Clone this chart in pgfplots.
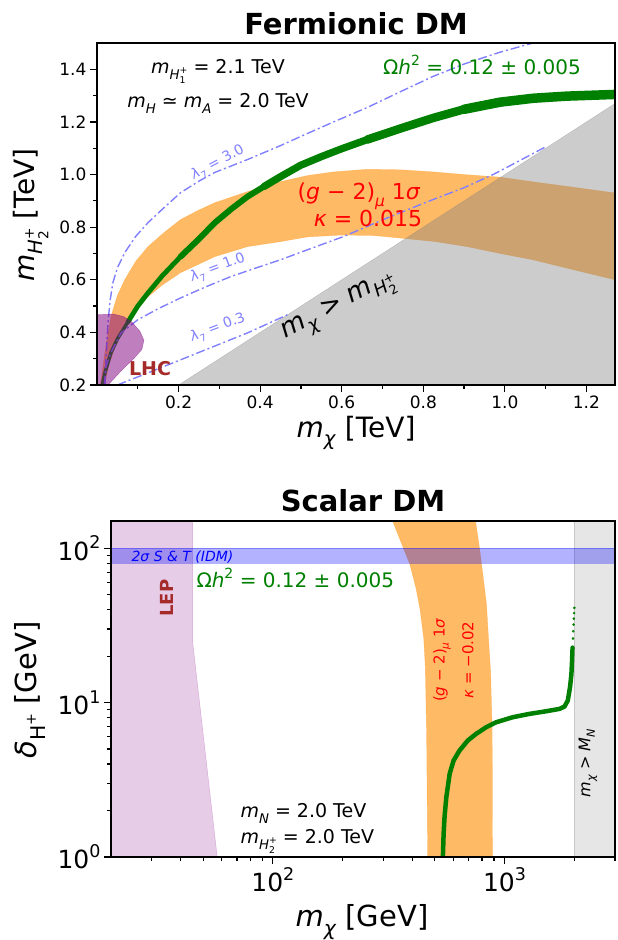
\documentclass[border=0pt]{standalone}
\usepackage{pgfplots}
\pgfplotsset{compat=1.18}
\usepackage{fontspec}
\setmainfont{DejaVu Sans}
\newcommand{\mi}[1]{\textit{#1}}
\newcommand{\dn}[1]{\raisebox{-0.28em}{\scalebox{0.7}{#1}}}
\newcommand{\up}[1]{\raisebox{0.45em}{\scalebox{0.7}{#1}}}
\newcommand{\ud}[2]{\rlap{\dn{#1}}\up{#2}}
\newcommand{\fs}[1]{\fontsize{#1}{#1}\selectfont}
\definecolor{lam}{RGB}{128,128,255}
\definecolor{dorange}{RGB}{255,140,0}
\definecolor{lbrown}{RGB}{165,42,42}
\definecolor{mgreen}{RGB}{0,128,0}
\definecolor{mpurple}{RGB}{128,0,128}
\definecolor{mgray}{RGB}{128,128,128}
\pgfplotsset{myax/.style={scale only axis, axis on top, tick align=outside,
  xtick pos=left, ytick pos=left, axis line style={line width=2.4pt},
  major tick length=7pt, minor tick length=4pt,
  every tick/.style={black, line width=1.2pt}, clip=true},
  lamline/.style={lam, line width=1.4pt, dash pattern=on 9pt off 3pt on 2pt off 3pt},
  grline/.style={mgreen, line cap=round, line join=round}}
\begin{document}
\begin{tikzpicture}
\path[use as bounding box] (0pt,0pt) rectangle (618pt,940pt);
% ---------------- Top panel ----------------
\begin{axis}[myax, at={(97pt,555pt)}, anchor=south west, width=518pt, height=342pt,
  xmin=0, xmax=1.27, ymin=0.2, ymax=1.5,
  xtick={0.2,0.4,0.6,0.8,1.0,1.2}, xticklabels={0.2,0.4,0.6,0.8,1.0,1.2},
  minor xtick={0.1,0.3,0.5,0.7,0.9,1.1},
  ytick={0.2,0.4,0.6,0.8,1.0,1.2,1.4}, yticklabels={0.2,0.4,0.6,0.8,1.0,1.2,1.4},
  minor ytick={0.3,0.5,0.7,0.9,1.1,1.3},
  tick label style={font=\fs{17}}]
% g-2 band
\addplot[fill=dorange, fill opacity=0.6, draw=dorange, draw opacity=0.4] coordinates {
 (0.008,0.2)(0.02,0.33)(0.034,0.459)(0.05,0.54)(0.068,0.6)(0.095,0.67)(0.125,0.726)
 (0.165,0.78)(0.205,0.829)(0.25,0.865)(0.289,0.893)(0.369,0.935)(0.45,0.973)(0.516,0.996)
 (0.58,1.01)(0.663,1.02)(0.745,1.018)(0.824,1.01)(0.9,1.0)(0.988,0.99)(1.07,0.972)
 (1.152,0.955)(1.27,0.93)
 (1.27,0.6)(1.15,0.645)(1.069,0.676)(0.988,0.70)(0.907,0.726)(0.83,0.745)(0.76,0.756)
 (0.68,0.768)(0.6,0.77)(0.516,0.763)(0.45,0.745)(0.369,0.726)(0.289,0.688)(0.205,0.627)
 (0.16,0.58)(0.125,0.535)(0.1,0.49)(0.076,0.448)(0.05,0.37)(0.03,0.28)(0.018,0.2)} --cycle;
% relic density (band widening to the right)
\addplot[grline, line width=3.5pt] coordinates {
 (0.013,0.2)(0.02,0.25)(0.034,0.322)(0.05,0.375)(0.076,0.44)(0.1,0.5)};
\addplot[grline, line width=4.8pt] coordinates {
 (0.076,0.44)(0.1,0.5)(0.125,0.55)(0.16,0.615)(0.205,0.688)(0.25,0.755)};
\addplot[grline, line width=6pt] coordinates {
 (0.205,0.688)(0.25,0.755)(0.289,0.817)(0.33,0.87)(0.369,0.916)(0.41,0.955)(0.45,0.992)};
\addplot[grline, line width=7.3pt] coordinates {
 (0.41,0.955)(0.45,0.992)(0.499,1.035)(0.55,1.068)(0.6,1.098)(0.663,1.133)(0.744,1.175)};
\addplot[grline, line width=8.5pt] coordinates {
 (0.663,1.133)(0.744,1.175)(0.824,1.215)(0.9,1.248)(0.988,1.275)};
\addplot[grline, line width=9.5pt] coordinates {
 (0.9,1.248)(0.988,1.275)(1.07,1.29)(1.152,1.298)(1.28,1.305)};
% excluded m_chi > m_H2
\addplot[fill=mgray, fill opacity=0.4, draw=mgray, draw opacity=0.4] coordinates {
 (0.2,0.2)(1.27,1.27)(1.27,0.2)} --cycle;
% lambda_7 contours
\addplot[lamline] coordinates {
 (0.02,0.2)(0.022,0.3)(0.027,0.436)(0.032,0.52)(0.039,0.589)(0.05,0.645)(0.068,0.703)
 (0.095,0.765)(0.125,0.817)(0.165,0.875)(0.205,0.931)(0.25,0.975)(0.289,1.008)(0.369,1.057)
 (0.45,1.11)(0.5,1.145)(0.58,1.2)(0.663,1.255)(0.744,1.315)(0.824,1.373)(0.9,1.42)
 (0.988,1.465)(1.069,1.5)};
\addplot[lamline] coordinates {
 (0.018,0.2)(0.022,0.27)(0.034,0.322)(0.059,0.398)(0.1,0.448)(0.15,0.49)(0.205,0.531)
 (0.265,0.572)(0.328,0.612)(0.39,0.645)(0.45,0.676)(0.516,0.714)(0.604,0.764)(0.702,0.829)
 (0.824,0.905)(0.9,0.95)(0.971,1.0)(0.995,1.019)(1.102,1.107)};
\addplot[lamline] coordinates {
 (0.05,0.2)(0.125,0.246)(0.247,0.322)(0.369,0.398)(0.467,0.467)};
% LHC
\addplot[fill=mpurple, fill opacity=0.5, draw=mpurple, draw opacity=0.5] coordinates {
 (0,0.2)(0,0.467)(0.04,0.47)(0.065,0.46)(0.085,0.44)(0.105,0.405)(0.115,0.37)(0.11,0.335)
 (0.09,0.3)(0.06,0.255)(0.03,0.205)(0.025,0.2)} --cycle;
\end{axis}
% texts top
\node[font=\bfseries\fs{29}, anchor=base] at (356pt,905pt) {Fermionic DM};
\node[font=\fs{19}, anchor=base] at (218pt,866pt) {\mi{m}\dn{\mi{H}\ud{1}{+}} = 2.1 TeV};
\node[font=\fs{19}, anchor=base] at (218pt,832pt) {\mi{m}\dn{\mi{H}} ≃ \mi{m}\dn{\mi{A}} = 2.0 TeV};
\node[font=\fs{20}, anchor=base, text=mgreen] at (482pt,865pt) {Ω\mi{h}\up{2} = 0.12 ± 0.005};
\node[font=\fs{22}, anchor=base, text=red] at (359pt,740pt) {(\mi{g} − 2)\dn{\mi{μ}} 1\mi{σ}};
\node[font=\fs{22}, anchor=base, text=red] at (368pt,713pt) {\mi{κ} = 0.015};
\node[font=\bfseries\fs{19}, anchor=base, text=lbrown] at (150pt,564pt) {LHC};
\node[font=\fs{14}, text=lam, rotate=28] at (218pt,777pt) {\mi{λ}\dn{7} = 3.0};
\node[font=\fs{14}, text=lam, rotate=21] at (218pt,672pt) {\mi{λ}\dn{7} = 1.0};
\node[font=\fs{14}, text=lam, rotate=21] at (218pt,612pt) {\mi{λ}\dn{7} = 0.3};
\node[font=\fs{26}, rotate=28] at (340pt,632pt) {\mi{m}\dn{\mi{χ}} > \mi{m}\dn{\mi{H}\ud{2}{+}}};
\node[font=\fs{28}, rotate=90] at (31pt,725pt) {\mi{m}\dn{\mi{H}\ud{2}{+}} [TeV]};
\node[font=\fs{28}, anchor=base] at (356pt,502pt) {\mi{m}\dn{\mi{χ}} [TeV]};
% ---------------- Bottom panel ----------------
\begin{axis}[myax, at={(111pt,83pt)}, anchor=south west, width=504pt, height=336pt,
  xmode=log, ymode=log, xmin=20, xmax=3000, ymin=1, ymax=150,
  xtick={100,1000}, xticklabels={10\up{2},10\up{3}},
  minor xtick={30,40,50,60,70,80,90,200,300,400,500,600,700,800,900,2000,3000},
  ytick={1,10,100}, yticklabels={10\up{0},10\up{1},10\up{2}},
  minor ytick={2,3,4,5,6,7,8,9,20,30,40,50,60,70,80,90},
  tick label style={font=\fs{25}}]
% LEP
\addplot[fill=mpurple, fill opacity=0.2, draw=mpurple, draw opacity=0.25] coordinates {
 (20,1)(20,150)(45,150)(45,25)(57.5,1)} --cycle;
% g-2 band
\addplot[fill=dorange, fill opacity=0.6, draw=dorange, draw opacity=0.4] coordinates {
 (329,150)(352,116)(390,79)(415,55)(432,40)(448,26)(455,17)(461,6.3)(466,1)
 (888,1)(885,6.3)(871,16)(853,26)(836,43.5)(803,71)(780,100)(750,150)} --cycle;
% relic density
\addplot[grline, line width=4.5pt] coordinates {
 (542,1)(546,1.42)(551,1.82)(561,2.45)(580,3.47)(603,4.22)(640,4.9)(695,5.69)(755,6.28)
 (834,6.93)(921,7.46)(1086,8.04)(1282,8.45)(1514,8.79)(1726,9.1)(1815,9.42)(1876,10.3)
 (1919,12.6)(1945,15.3)(1958,18.7)(1968,22.7)};
\addplot[mgreen, only marks, mark=*, mark size=1.1pt] coordinates {
 (1975,26)(1980,29)(1988,32)(1992,35)(1998,38)(2003,41)};
% m_chi > M_N
\addplot[fill=mgray, fill opacity=0.2, draw=mgray, draw opacity=0.3] coordinates {
 (2000,1)(3000,1)(3000,150)(2000,150)} --cycle;
% S & T band
\addplot[fill=blue, fill opacity=0.3, draw=blue, draw opacity=0.3] coordinates {
 (20,80)(3000,80)(3000,100)(20,100)} --cycle;
\end{axis}
\node[font=\bfseries\fs{29}, anchor=base] at (363pt,428pt) {Scalar DM};
\node[font=\itshape\fs{14}, anchor=west, text=blue] at (128pt,383pt) {2σ S \& T (IDM)};
\node[font=\fs{20}, anchor=base west, text=mgreen] at (193pt,352pt) {Ω\mi{h}\up{2} = 0.12 ± 0.005};
\node[font=\bfseries\fs{18}, rotate=90, text=lbrown] at (167pt,342pt) {LEP};
\node[font=\fs{15}, rotate=90, text=red] at (442pt,280pt) {(\mi{g} − 2)\dn{\mi{μ}} 1\mi{σ}};
\node[font=\fs{15}, rotate=90, text=red] at (468pt,280pt) {\mi{κ} = −0.02};
\node[font=\fs{16}, rotate=90] at (588pt,177pt) {\mi{m}\dn{\mi{χ}} > \mi{M}\dn{\mi{N}}};
\node[font=\fs{19}, anchor=base west] at (237pt,122pt) {\mi{m}\dn{\mi{N}} = 2.0 TeV};
\node[font=\fs{19}, anchor=base west] at (237pt,96pt) {\mi{m}\dn{\mi{H}\ud{2}{+}} = 2.0 TeV};
\node[font=\fs{29}, rotate=90] at (30pt,250pt) {\mi{δ}\dn{H\up{+}} [GeV]};
\node[font=\fs{29}, anchor=base] at (362pt,13pt) {\mi{m}\dn{\mi{χ}} [GeV]};
\end{tikzpicture}
\end{document}
